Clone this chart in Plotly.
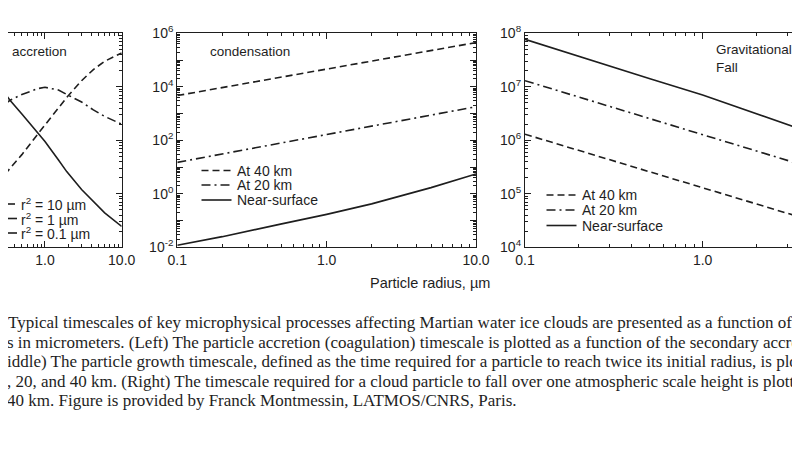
import plotly.graph_objects as go

# ---- left panel: accretion timescale (left edge cut off in the source)
acc_r = [0.3, 0.35, 0.5, 0.82, 1.0, 1.5, 1.92, 3.0, 4.27, 6.0, 10.0]
acc_r2_10 = [2.3e3, 3.0e3, 5.4e3, 1.35e4, 1.95e4, 4.2e4, 6.3e4, 1.3e5, 2.1e5, 3.0e5, 4.3e5]
acc_r2_1 = [4.7e4, 5.6e4, 7.2e4, 9.3e4, 9.8e4, 8.7e4, 7.2e4, 5.2e4, 3.7e4, 2.8e4, 2.0e4]
acc_r2_01 = [7.5e4, 5.6e4, 3.1e4, 1.35e4, 9.5e3, 4.3e3, 2.6e3, 1.2e3, 710, 440, 245]

# ---- middle panel: condensation
cond_r = [0.1, 0.2, 0.5, 1.0, 2.0, 3.0, 5.0, 10.0]
cond_40km = [4.7e3, 9.3e3, 2.3e4, 4.6e4, 9.2e4, 1.4e5, 2.3e5, 4.5e5]
cond_20km = [15, 31, 80, 160, 330, 510, 850, 1800]
cond_surface = [0.012, 0.025, 0.075, 0.17, 0.42, 0.8, 1.7, 5.5]

# ---- right panel: gravitational fall (right edge cut off in the source)
fall_r = [0.1, 0.2, 0.5, 1.0, 2.0, 3.6]
fall_40km = [1.3e6, 6.5e5, 2.6e5, 1.3e5, 6.5e4, 3.6e4]
fall_20km = [1.3e7, 6.5e6, 2.6e6, 1.26e6, 6.3e5, 3.5e5]
fall_surface = [7.7e7, 3.7e7, 1.43e7, 7.0e6, 3.2e6, 1.6e6]

acc_labels = ['r<sup>2</sup> = 10 µm', 'r<sup>2</sup> = 1 µm', 'r<sup>2</sup> = 0.1 µm']
alt_labels = ['At 40 km', 'At 20 km', 'Near-surface']

caption = [
    'Typical timescales of key microphysical processes affecting Martian water ice clouds are presented as a function of the',
    's in micrometers. (Left) The particle accretion (coagulation) timescale is plotted as a function of the secondary accreting',
    'iddle) The particle growth timescale, defined as the time required for a particle to reach twice its initial radius, is plotted',
    ', 20, and 40 km. (Right) The timescale required for a cloud particle to fall over one atmospheric scale height is plotted',
    '40 km. Figure is provided by Franck Montmessin, LATMOS/CNRS, Paris.',
]

INK = '#1e1e1e'
SANS = 'Liberation Sans, Arial, sans-serif'
W, H = 800, 450
OFF = 8      # the page body margin shifts the figure by this many pixels
PAD = 3      # annotation text padding
DASH = '7px,4px'
DASHDOT = '9px,4px,2px,4px'
styles = [DASH, DASHDOT, 'solid']


# positions below are given in screen pixels of the 800x450 window
def px(x):
    return (x - OFF) / W


def py(y):
    return 1 - (y - OFF) / H


def minor_vals(lo, hi):
    return [k * 10 ** e for e in range(lo, hi) for k in range(2, 10)]


fig = go.Figure()

panels = [
    ('x', 'y', acc_r, [acc_r2_10, acc_r2_1, acc_r2_01]),
    ('x2', 'y2', cond_r, [cond_40km, cond_20km, cond_surface]),
    ('x3', 'y3', fall_r, [fall_40km, fall_20km, fall_surface]),
]
for xa, ya, xs, series in panels:
    for ys, dash in zip(series, styles):
        fig.add_trace(go.Scatter(x=xs, y=ys, xaxis=xa, yaxis=ya, mode='lines',
                                 line=dict(color=INK, width=1.6, dash=dash),
                                 showlegend=False, hoverinfo='skip'))

top, bottom = 33.3, 247.3
ydom = [py(bottom), py(top)]
TICKFONT = dict(family=SANS, size=14, color=INK)

xcommon = dict(type='log', showline=True, linecolor=INK, linewidth=1.2,
               ticks='inside', ticklen=6, tickcolor=INK, mirror='allticks',
               showgrid=False, zeroline=False, automargin=False, tickfont=TICKFONT,
               minor=dict(ticks='inside', ticklen=3, tickcolor=INK,
                          tickvals=minor_vals(-1, 1), showgrid=False))
ycommon = dict(type='log', showline=True, linecolor=INK, linewidth=1.2,
               ticks='inside', ticklen=6, tickcolor=INK, showgrid=False,
               zeroline=False, automargin=False, tickfont=TICKFONT)

fig.update_layout(
    xaxis=dict(xcommon, domain=[0, px(121.7)], range=[-0.482, 1], anchor='y',
               tickvals=[1, 10], ticktext=['1.0', '10.0']),
    xaxis2=dict(xcommon, domain=[px(177.3), px(476)], range=[-1, 1], anchor='y2',
                tickvals=[0.1, 1, 10], ticktext=['0.1', '1.0', '10.0']),
    xaxis3=dict(xcommon, domain=[px(525), px(800)], range=[-1, 0.548], anchor='y3',
                tickvals=[0.1, 1], ticktext=['0.1', '1.0']),
    yaxis=dict(ycommon, domain=ydom, range=[2, 6], anchor='x', side='right',
               showticklabels=False, tickvals=[10 ** e for e in range(2, 7)],
               minor=dict(ticks='inside', ticklen=3, tickcolor=INK,
                          tickvals=minor_vals(2, 6), showgrid=False)),
    yaxis2=dict(ycommon, domain=ydom, range=[-2, 6], anchor='x2', mirror='allticks',
                tickvals=[10 ** e for e in range(-2, 7)],
                ticktext=['10<sup>%d</sup>' % e if e % 2 == 0 else '' for e in range(-2, 7)],
                minor=dict(ticks='inside', ticklen=3, tickcolor=INK,
                           tickvals=minor_vals(-2, 6), showgrid=False)),
    yaxis3=dict(ycommon, domain=ydom, range=[4, 8], anchor='x3',
                tickvals=[10 ** e for e in range(4, 9)],
                ticktext=['10<sup>%d</sup>' % e for e in range(4, 9)],
                minor=dict(ticks='inside', ticklen=3, tickcolor=INK,
                           tickvals=minor_vals(4, 8), showgrid=False)),
)

# panel names
notes = [
    ('accretion', 13, 51),
    ('condensation', 210.5, 51.5),
    ('Gravitational<br>Fall', 717, 59),
]
for text, x0, y0 in notes:
    fig.add_annotation(xref='paper', yref='paper', x=px(x0 - PAD), y=py(y0), text=text,
                       showarrow=False, xanchor='left', yanchor='middle', align='left',
                       font=dict(family=SANS, size=13.5, color=INK))

# hand-drawn legends inside each panel
legends = [
    (acc_labels, -14, 17, 21.5, [204, 218.5, 233]),
    (alt_labels, 201.5, 231.5, 238, [170.5, 185, 200]),
    (alt_labels, 546.5, 576.5, 583, [195, 210, 225.5]),
]
for labels, lx0, lx1, tx, rows in legends:
    for label, dash, row in zip(labels, styles, rows):
        fig.add_shape(type='line', xref='paper', yref='paper',
                      x0=px(max(lx0, OFF)), x1=px(lx1), y0=py(row), y1=py(row),
                      line=dict(color=INK, width=1.6, dash=dash))
        fig.add_annotation(xref='paper', yref='paper', x=px(tx - PAD), y=py(row), text=label,
                           showarrow=False, xanchor='left', yanchor='middle',
                           font=dict(family=SANS, size=14, color=INK))

fig.add_annotation(xref='paper', yref='paper', x=px(489 + PAD), y=py(283), text='Particle radius, µm',
                   showarrow=False, xanchor='right', yanchor='middle',
                   font=dict(family=SANS, size=14.5, color=INK))

# caption underneath (its left part is lost at the page edge)
cap_x = [9, 8, 8, 8, 8]
cap_y = [322.5, 342, 361.5, 381, 400.3]
for line, x0, y0 in zip(caption, cap_x, cap_y):
    fig.add_annotation(xref='paper', yref='paper', x=px(x0 - PAD), y=py(y0), text=line,
                       showarrow=False, xanchor='left', yanchor='middle',
                       font=dict(family='Liberation Serif, Times New Roman, serif', size=17, color=INK))

fig.update_layout(width=W, height=H, margin=dict(l=0, r=0, t=0, b=0, autoexpand=False),
                  plot_bgcolor='white', paper_bgcolor='white', showlegend=False)

fig.write_html('out.html')
